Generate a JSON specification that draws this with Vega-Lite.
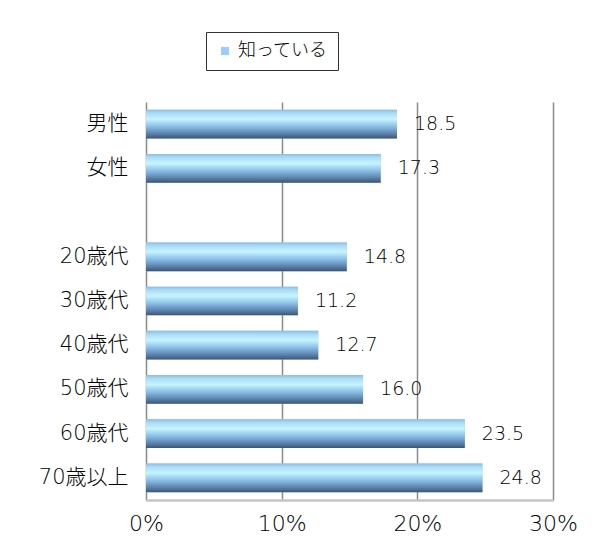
{
  "$schema": "https://vega.github.io/schema/vega-lite/v6.json",
  "width": 407,
  "height": 398,
  "autosize": {"type": "none"},
  "padding": {"left": 146, "top": 102, "right": 52, "bottom": 55},
  "background": "white",
  "config": {
    "view": {"stroke": null},
    "font": "DejaVu Sans, Noto Sans CJK JP"
  },
  "data": {
    "values": [
      {"group": "男性", "value": 18.5},
      {"group": "女性", "value": 17.3},
      {"group": "20歳代", "value": 14.8},
      {"group": "30歳代", "value": 11.2},
      {"group": "40歳代", "value": 12.7},
      {"group": "50歳代", "value": 16.0},
      {"group": "60歳代", "value": 23.5},
      {"group": "70歳以上", "value": 24.8}
    ]
  },
  "encoding": {
    "y": {
      "field": "group",
      "type": "nominal",
      "scale": {
        "domain": ["男性", "女性", " ", "20歳代", "30歳代", "40歳代", "50歳代", "60歳代", "70歳以上"],
        "paddingInner": 0.35,
        "paddingOuter": 0.175
      },
      "axis": {
        "title": null,
        "domain": false,
        "ticks": false,
        "labelPadding": 18,
        "labelFontSize": 21,
        "labelFontWeight": 300,
        "labelColor": "#000000",
        "labelFont": "DejaVu Sans, Noto Sans CJK JP"
      }
    },
    "x": {
      "field": "value",
      "type": "quantitative",
      "scale": {"domain": [0, 30], "nice": false},
      "axis": {
        "title": null,
        "values": [0, 10, 20, 30],
        "labelExpr": "datum.value + '%'",
        "labelFlush": false,
        "grid": true,
        "gridColor": "#8a8a8a",
        "gridWidth": 1.5,
        "domain": true,
        "domainColor": "#c4c4c4",
        "domainWidth": 2.5,
        "ticks": false,
        "labelPadding": 13,
        "labelFontSize": 22,
        "labelFontWeight": 300,
        "labelColor": "#000000",
        "labelFont": "DejaVu Sans, Noto Sans CJK JP"
      }
    }
  },
  "layer": [
    {
      "mark": {"type": "bar", "strokeWidth": 0},
      "encoding": {
        "color": {
          "datum": "知っている",
          "scale": {"range": ["#99ccff"]},
          "legend": {
            "title": null,
            "orient": "none",
            "legendX": 60,
            "legendY": -70,
            "strokeColor": "#333333",
            "fillColor": "white",
            "padding": 10,
            "symbolType": "square",
            "symbolSize": 64,
            "symbolStrokeWidth": 0,
            "labelFontSize": 18,
            "labelFontWeight": 300,
            "labelColor": "#000000",
            "labelFont": "Noto Sans CJK JP",
            "labelOffset": 4
          }
        }
      }
    },
    {
      "mark": {
        "type": "bar",
        "strokeWidth": 0,
        "fill": {
          "gradient": "linear",
          "x1": 0, "y1": 0, "x2": 0, "y2": 1,
          "stops": [
            {"offset": 0, "color": "#8cbde4"},
            {"offset": 0.12, "color": "#aadcf6"},
            {"offset": 0.33, "color": "#c6f4ff"},
            {"offset": 0.6, "color": "#86bbe6"},
            {"offset": 0.85, "color": "#587ea6"},
            {"offset": 1, "color": "#3e5472"}
          ]
        }
      },
      "encoding": {}
    },
    {
      "mark": {
        "type": "text",
        "align": "left",
        "baseline": "middle",
        "dx": 17,
        "fontSize": 19,
        "fontWeight": 300,
        "color": "#000000",
        "font": "DejaVu Sans, Noto Sans CJK JP"
      },
      "encoding": {
        "text": {"field": "value", "type": "quantitative", "format": ".1f"}
      }
    }
  ]
}
